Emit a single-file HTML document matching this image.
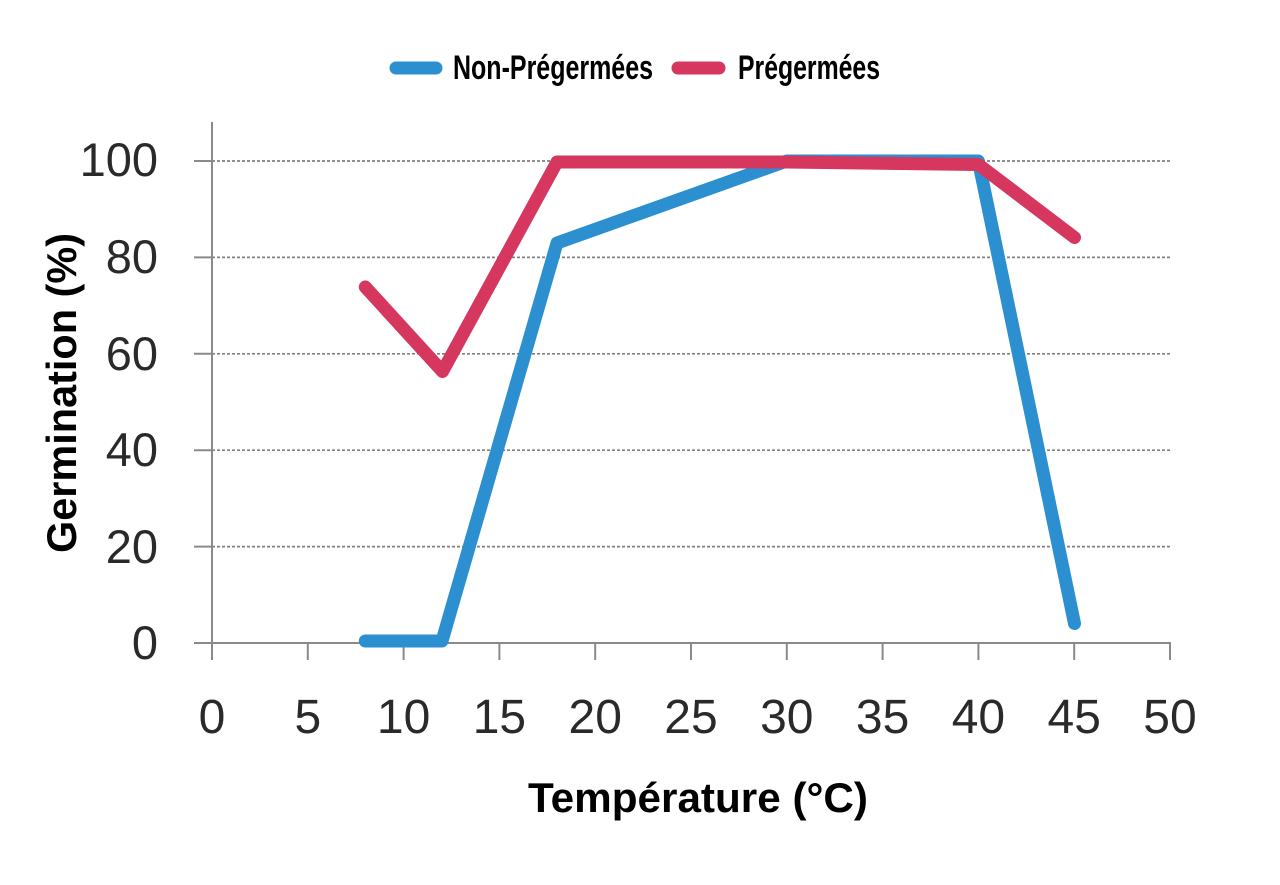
<!DOCTYPE html>
<html>
<head>
<meta charset="utf-8">
<style>
  html, body { margin: 0; padding: 0; background: #ffffff; }
  svg { display: block; }
</style>
</head>
<body>
<svg width="1280" height="885" viewBox="0 0 1280 885" xmlns="http://www.w3.org/2000/svg">
  <rect x="0" y="0" width="1280" height="885" fill="#ffffff"/>

  <!-- Gridlines (dashed) -->
  <g stroke="#808080" stroke-width="1.7" stroke-dasharray="3 2">
    <line x1="212" y1="161" x2="1170" y2="161"/>
    <line x1="212" y1="257.4" x2="1170" y2="257.4"/>
    <line x1="212" y1="353.8" x2="1170" y2="353.8"/>
    <line x1="212" y1="450.2" x2="1170" y2="450.2"/>
    <line x1="212" y1="546.6" x2="1170" y2="546.6"/>
  </g>

  <!-- Axes and ticks -->
  <g stroke="#8a8a8a" stroke-width="2">
    <line x1="212" y1="122" x2="212" y2="660"/>
    <line x1="194" y1="643" x2="1171" y2="643"/>
    <line x1="194" y1="161" x2="212" y2="161"/>
    <line x1="194" y1="257.4" x2="212" y2="257.4"/>
    <line x1="194" y1="353.8" x2="212" y2="353.8"/>
    <line x1="194" y1="450.2" x2="212" y2="450.2"/>
    <line x1="194" y1="546.6" x2="212" y2="546.6"/>
    <line x1="307.8" y1="643" x2="307.8" y2="660"/>
    <line x1="403.6" y1="643" x2="403.6" y2="660"/>
    <line x1="499.4" y1="643" x2="499.4" y2="660"/>
    <line x1="595.2" y1="643" x2="595.2" y2="660"/>
    <line x1="691" y1="643" x2="691" y2="660"/>
    <line x1="786.8" y1="643" x2="786.8" y2="660"/>
    <line x1="882.6" y1="643" x2="882.6" y2="660"/>
    <line x1="978.4" y1="643" x2="978.4" y2="660"/>
    <line x1="1074.2" y1="643" x2="1074.2" y2="660"/>
    <line x1="1170" y1="643" x2="1170" y2="660"/>
  </g>

  <!-- Y tick labels -->
  <g font-family="'Liberation Sans', 'DejaVu Sans', sans-serif" font-size="47" fill="#2a2a2a" text-anchor="end">
    <text x="158" y="176">100</text>
    <text x="158" y="273">80</text>
    <text x="158" y="370">60</text>
    <text x="158" y="466">40</text>
    <text x="158" y="563">20</text>
    <text x="158" y="659">0</text>
  </g>

  <!-- X tick labels -->
  <g font-family="'Liberation Sans', 'DejaVu Sans', sans-serif" font-size="48" fill="#2a2a2a" text-anchor="middle">
    <text x="212" y="733">0</text>
    <text x="307.8" y="733">5</text>
    <text x="403.6" y="733">10</text>
    <text x="499.4" y="733">15</text>
    <text x="595.2" y="733">20</text>
    <text x="691" y="733">25</text>
    <text x="786.8" y="733">30</text>
    <text x="882.6" y="733">35</text>
    <text x="978.4" y="733">40</text>
    <text x="1074.2" y="733">45</text>
    <text x="1170" y="733">50</text>
  </g>

  <!-- Series -->
  <polyline fill="none" stroke="#2b8fd0" stroke-width="13" stroke-linejoin="round" stroke-linecap="round"
    points="365.3,641 442,641 557,243 786.8,161 978.4,161 1074.5,623.5"/>
  <polyline fill="none" stroke="#d5375f" stroke-width="13" stroke-linejoin="round" stroke-linecap="round"
    points="365.3,287 442.5,371.5 557,162 786.8,162 978.4,164.5 1074.5,237.5"/>

  <!-- Axis titles -->
  <text x="698" y="812" font-family="'Liberation Sans', 'DejaVu Sans', sans-serif" font-weight="bold" font-size="42" fill="#000" text-anchor="middle" textLength="340" lengthAdjust="spacingAndGlyphs">Température (°C)</text>
  <text transform="translate(76,393) rotate(-90)" x="0" y="0" font-family="'Liberation Sans', 'DejaVu Sans', sans-serif" font-weight="bold" font-size="42" fill="#000" text-anchor="middle" textLength="320" lengthAdjust="spacingAndGlyphs">Germination (%)</text>

  <!-- Legend -->
  <line x1="396" y1="68" x2="436" y2="68" stroke="#2b8fd0" stroke-width="13" stroke-linecap="round"/>
  <text x="453" y="79" font-family="'Liberation Sans', 'DejaVu Sans', sans-serif" font-weight="bold" font-size="34" fill="#000" textLength="200" lengthAdjust="spacingAndGlyphs">Non-Prégermées</text>
  <line x1="678" y1="68" x2="719" y2="68" stroke="#d5375f" stroke-width="13" stroke-linecap="round"/>
  <text x="738" y="79" font-family="'Liberation Sans', 'DejaVu Sans', sans-serif" font-weight="bold" font-size="34" fill="#000" textLength="142" lengthAdjust="spacingAndGlyphs">Prégermées</text>
</svg>
</body>
</html>
